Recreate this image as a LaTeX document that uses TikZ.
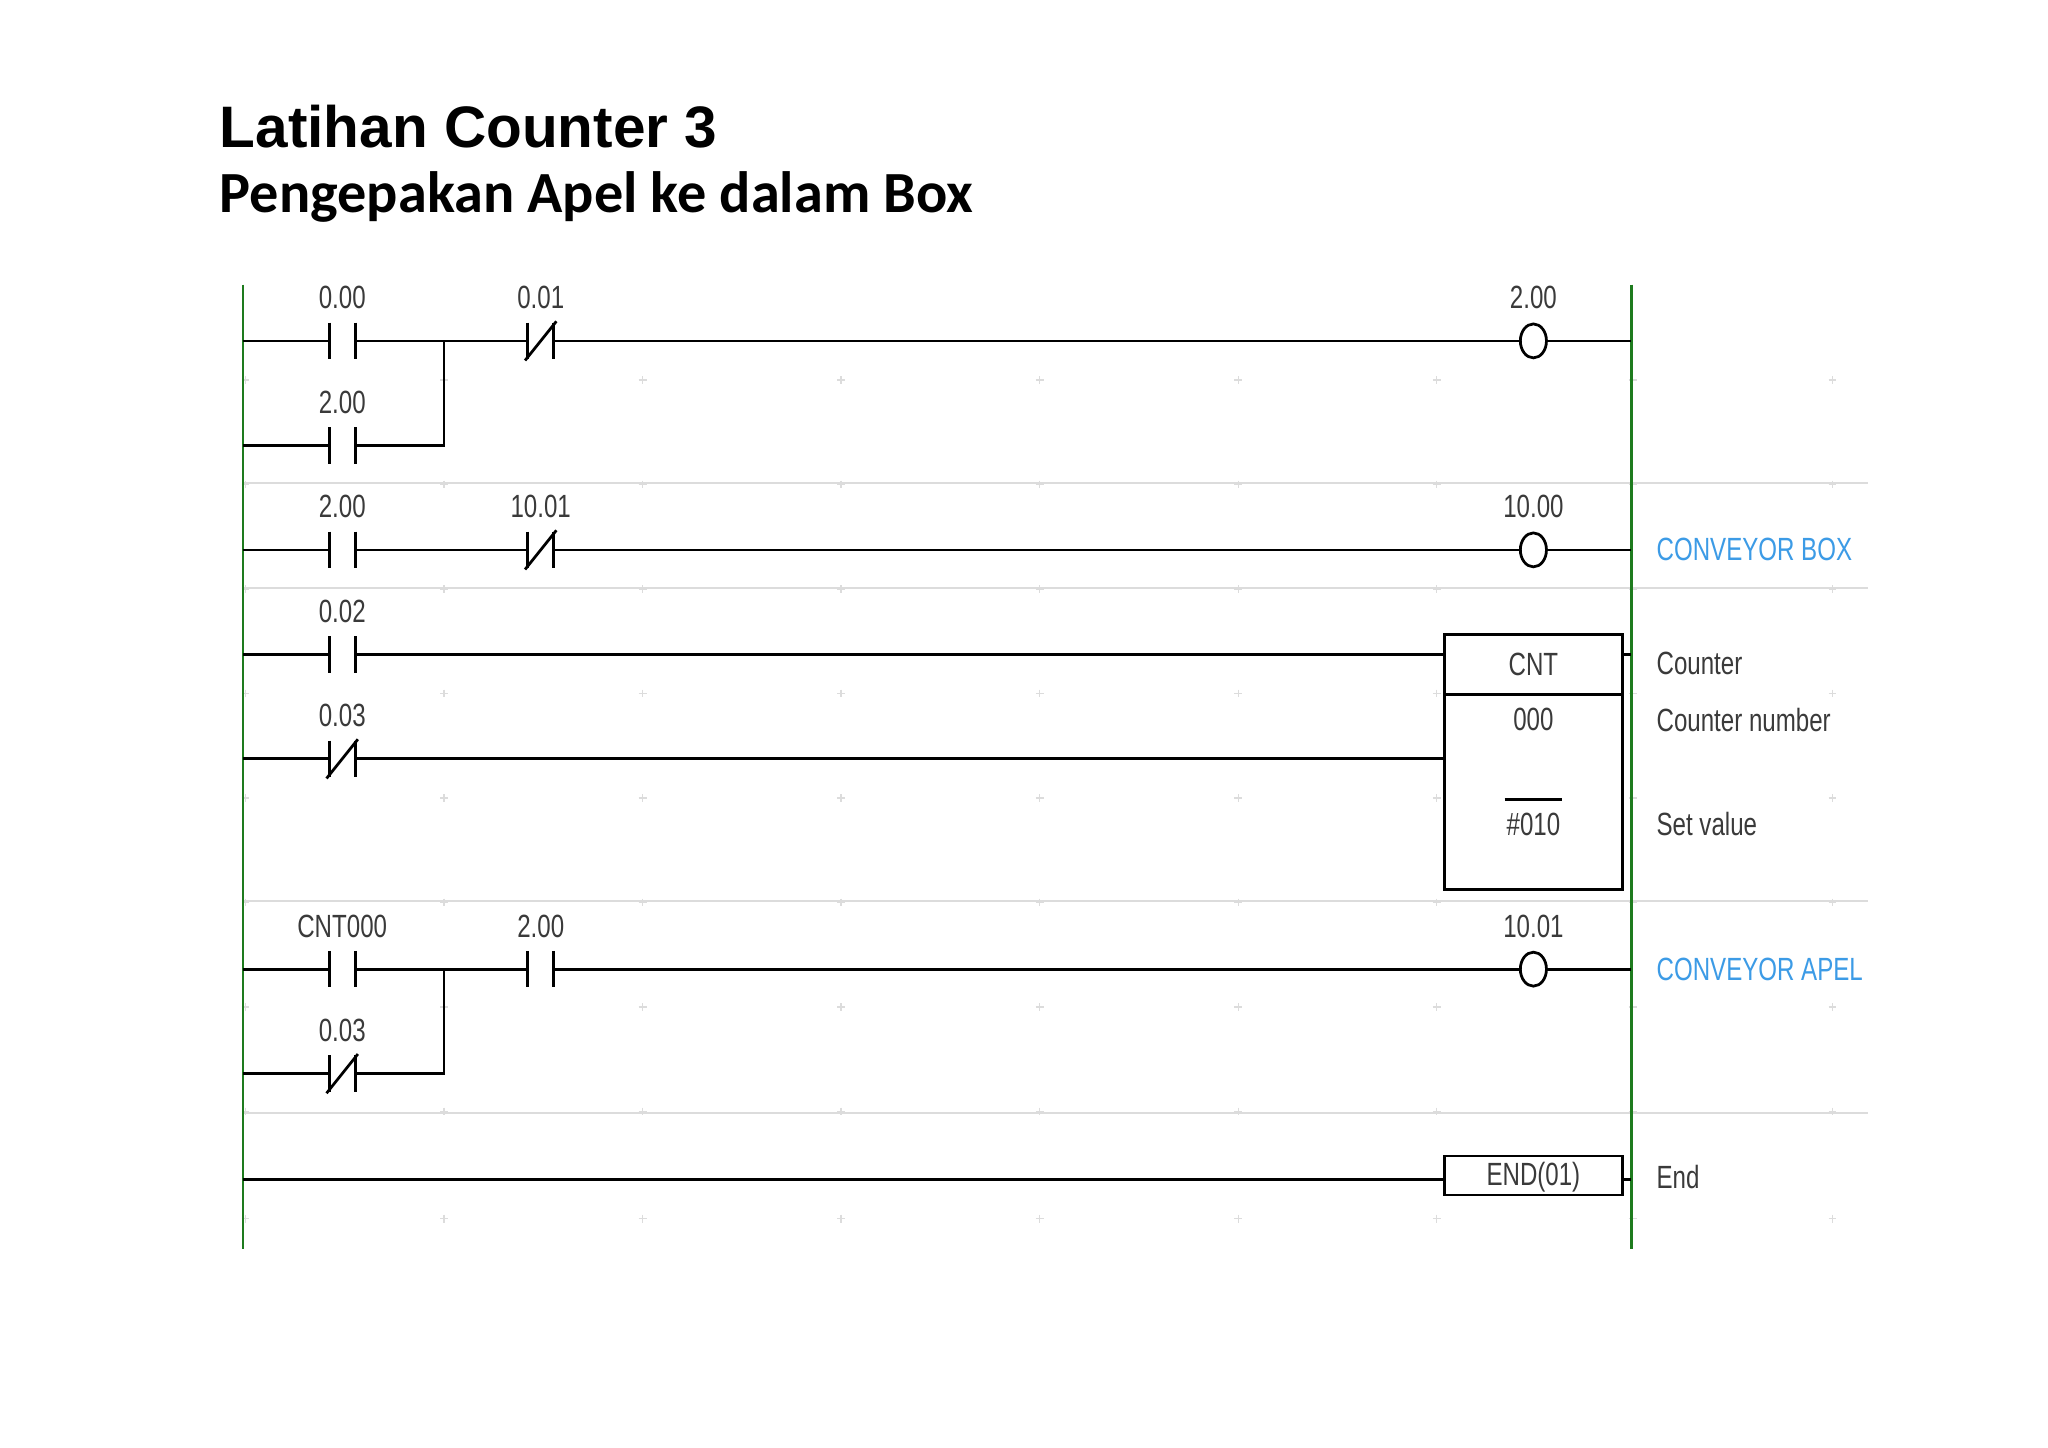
\documentclass[tikz,border=0pt]{standalone}
\usepackage{fontspec}
\setmainfont{Liberation Sans}
\newfontfamily\lad[FakeStretch=0.75]{Liberation Sans}
\newfontfamily\sub{Carlito}
\definecolor{rail}{HTML}{1E7B1E}
\definecolor{labc}{HTML}{3A3A3A}
\definecolor{bluec}{HTML}{3C9BE6}
\definecolor{sep}{HTML}{DCDCDC}
\tikzset{
 wire/.style={line width=1.2pt,black},
 railst/.style={line width=1.2pt,rail},
 sepst/.style={line width=1pt,sep},
 lab/.style={font=\lad\fontsize{14}{16}\selectfont,text=labc,inner sep=0pt},
 blab/.style={font=\lad\fontsize{14}{16}\selectfont,text=bluec,inner sep=0pt,anchor=west},
 rlab/.style={font=\lad\fontsize{14}{16}\selectfont,text=labc,inner sep=0pt,anchor=west},
}
\newcommand\cNO[3]{\draw[wire] (#1-10,#2-14)--(#1-10,#2+14) (#1+10,#2-14)--(#1+10,#2+14);
 \node[lab] at (#1,#2-33) {#3};}
\newcommand\cNC[3]{\cNO{#1}{#2}{#3}\draw[wire] (#1-12,#2+15)--(#1+12,#2-15);}
\newcommand\coil[3]{\draw[wire] (#1,#2) ellipse [x radius=10,y radius=13];
 \node[lab] at (#1,#2-33) {#3};}
\begin{document}
\begin{tikzpicture}[x=0.02cm,y=-0.02cm]
\useasboundingbox[fill=white] (0,0) rectangle (1568,1108);
\node[anchor=base west,inner sep=0pt,font=\bfseries\fontsize{25.5}{30}\selectfont] (t1) at (168,113) {Latihan Counter 3};
\node[anchor=base west,inner sep=0pt,font=\sub\bfseries\fontsize{25.4}{30}\selectfont] (t2) at (168,163) {Pengepakan Apel ke dalam Box};
% grid marks
\foreach \yy in {291,371,451,531,611,691,771,851,933}
 \foreach \xx in {188,340,492,644,796,948,1100,1250,1403}
  \draw[sep,line width=0.6pt] (\xx-3,\yy)--(\xx+3,\yy) (\xx,\yy-3)--(\xx,\yy+3);
% separators
\foreach \yy in {370,450,690,852} \draw[sepst] (186,\yy)--(1430,\yy);
% rails
\draw[railst] (186,218) coordinate (lt) -- (186,956) coordinate (lb);
\draw[railst] (1249,218) coordinate (rt) -- (1249,956) coordinate (rb);
% rung 1
\draw[wire] (186,261)--(252,261) (272,261)--(404,261) (424,261)--(1164,261) (1184,261)--(1249,261);
\draw[wire] (186,341)--(252,341) (272,341)--(340,341)--(340,261);
\cNO{262}{261}{0.00}\cNC{414}{261}{0.01}\cNO{262}{341}{2.00}\coil{1174}{261}{2.00}
% rung 2
\draw[wire] (186,421)--(252,421) (272,421)--(404,421) (424,421)--(1164,421) (1184,421)--(1249,421);
\cNO{262}{421}{2.00}\cNC{414}{421}{10.01}\coil{1174}{421}{10.00}
\node[blab] (cb) at (1268,421) {CONVEYOR BOX};
% rung 3
\draw[wire] (186,501)--(252,501) (272,501)--(1106,501);
\draw[wire] (186,581)--(252,581) (272,581)--(1106,581);
\cNO{262}{501}{0.02}\cNC{262}{581}{0.03}
\draw[wire] (1106,486) rectangle (1242,681);
\draw[wire] (1106,532)--(1242,532);
\draw[wire] (1242,501)--(1249,501);
\node[lab] (cnt) at (1174,509) {CNT};
\node[lab] (n0) at (1174,551) {000};
\draw[wire] (1152,612)--(1196,612);
\node[lab] (sv) at (1174,631) {\#010};
\node[rlab] (l1) at (1268,508) {Counter};
\node[rlab] (l2) at (1268,551) {Counter number};
\node[rlab] (l3) at (1268,631) {Set value};
% rung 4
\draw[wire] (186,742)--(252,742) (272,742)--(404,742) (424,742)--(1164,742) (1184,742)--(1249,742);
\draw[wire] (186,822)--(252,822) (272,822)--(340,822)--(340,742);
\cNO{262}{742}{CNT000}\cNO{414}{742}{2.00}\cNC{262}{822}{0.03}\coil{1174}{742}{10.01}
\node[blab] (ca) at (1268,742) {CONVEYOR APEL};
% rung 5
\draw[wire] (186,903)--(1106,903);
\draw[wire] (1106,885) rectangle (1242,915);
\draw[wire] (1242,903)--(1249,903);
\node[lab] (end) at (1174,901) {END(01)};
\node[rlab] (le) at (1268,901) {End};
\end{tikzpicture}
\end{document}
